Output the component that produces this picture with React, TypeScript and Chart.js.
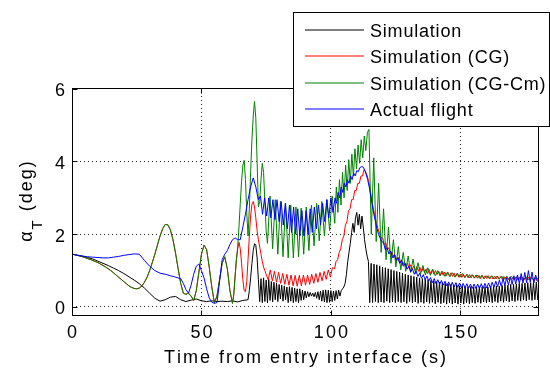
import { useEffect, useRef } from "react";
import { Chart, registerables } from "chart.js";

Chart.register(...registerables);

// Each block is a run of samples starting at t0 (s), spaced dt (s), with angle values (deg).
type Block = { t0: number; dt: number; y: number[] };

const seriesLabels = ["Simulation", "Simulation (CG)", "Simulation (CG-Cm)", "Actual flight"];
const seriesColors = ["#000000", "#ff0000", "#008000", "#0000ff"];
const xTitle = "Time from entry interface (s)";
const yTitleParts = ["\u03b1", "T", " (deg)"];
const xRange = [0, 180];
const yRange = [-0.22, 6.02];
const xStep = 50;
const yStep = 2;

const simulation: Block[] = [
  { t0: 0, dt: 2, y: [1.45, 1.43, 1.40, 1.36, 1.32, 1.26, 1.20, 1.14, 1.07, 1.00, 0.92, 0.83, 0.74, 0.64, 0.52, 0.38, 0.24, 0.16, 0.20, 0.27, 0.29, 0.20, 0.15, 0.19, 0.22, 0.17, 0.15, 0.17, 0.15, 0.16, 0.15, 0.17, 0.14, 0.18, 0.20] },
  { t0: 68.5, dt: 0.5, y: [0.45, 0.8, 1.2, 1.55, 1.74, 1.7, 1.35, 0.75, 0.15,
    0.78, 0.12, 0.8, 0.15, 0.74, 0.12, 0.76, 0.18, 0.7, 0.14, 0.68, 0.2, 0.66, 0.15, 0.62, 0.22, 0.6, 0.16, 0.58, 0.2, 0.55, 0.12, 0.56, 0.16, 0.54, 0.12, 0.52, 0.15, 0.5, 0.12, 0.5, 0.18, 0.46, 0.2, 0.44, 0.25, 0.42, 0.28, 0.4, 0.3, 0.38, 0.28, 0.4, 0.24, 0.42, 0.2, 0.44, 0.16, 0.46, 0.14, 0.47, 0.12, 0.46, 0.13, 0.45, 0.15, 0.44, 0.18, 0.45, 0.22, 0.46, 0.3,
    0.45, 0.5, 0.55, 0.65, 0.9, 1.25, 1.5, 1.75, 2.05, 2.3, 2.05, 2.45, 2.6, 2.25, 2.55, 2.15, 2.5, 2.2, 1.85, 1.6, 1.4, 1.25, 0.12] },
  { t0: 115.55, dt: 0.55, y: [
    1.2, 0.12, 1.18, 0.15, 1.16, 0.12, 1.13, 0.14, 1.1, 0.12, 1.08, 0.16, 1.05, 0.12, 1.03, 0.14, 1.0, 0.12, 0.98, 0.15,
    0.96, 0.12, 0.93, 0.14, 0.9, 0.1, 0.88, 0.15, 0.86, 0.11, 0.84, 0.14, 0.82, 0.1, 0.8, 0.13, 0.78, 0.1, 0.76, 0.14,
    0.75, 0.1, 0.73, 0.13, 0.71, 0.09, 0.7, 0.13, 0.68, 0.09, 0.67, 0.12, 0.65, 0.08, 0.64, 0.12, 0.62, 0.08, 0.61, 0.11,
    0.6, 0.08, 0.58, 0.11, 0.57, 0.08, 0.57, 0.12, 0.56, 0.09, 0.56, 0.12, 0.55, 0.1, 0.55, 0.13, 0.56, 0.1, 0.55, 0.14,
    0.56, 0.11, 0.55, 0.14, 0.57, 0.12, 0.56, 0.15, 0.58, 0.12, 0.57, 0.16, 0.59, 0.13, 0.6, 0.17, 0.6, 0.14, 0.62, 0.17,
    0.62, 0.15, 0.63, 0.18, 0.64, 0.16, 0.65, 0.19, 0.66, 0.17, 0.67, 0.2, 0.67, 0.18, 0.68, 0.2, 0.68, 0.19] },
];

const simulationCG: Block[] = [
  { t0: 0, dt: 1, y: [1.45, 1.44, 1.42, 1.40, 1.38, 1.36, 1.33, 1.31, 1.28, 1.25, 1.22, 1.18, 1.14, 1.10, 1.05, 1.00, 0.94, 0.88, 0.82, 0.76, 0.70, 0.64, 0.58, 0.54, 0.51, 0.50, 0.52, 0.58, 0.68, 0.82, 1.00, 1.22, 1.45, 1.70, 1.95, 2.15, 2.27, 2.26, 2.12, 1.85, 1.48, 1.05, 0.65, 0.38, 0.35, 0.38, 0.30, 0.18, 0.45, 0.95, 1.45, 1.70, 1.58, 1.10, 0.55, 0.12, 0.30, 0.75, 1.20, 1.38, 1.05, 0.45, 0.10] },
  { t0: 62.5, dt: 0.5, y: [0.35, 0.85, 1.3, 1.6, 1.78, 1.6, 1.2, 0.75, 0.45, 0.42, 0.7, 1.3, 1.95, 2.5, 2.82, 2.9, 2.75, 2.45, 2.1, 1.85, 1.65, 1.45, 1.25, 1.1, 1.0, 0.9] },
  { t0: 75.8, dt: 0.8, y: [0.75, 1.02, 0.72, 0.98, 0.68, 0.95, 0.65, 0.92, 0.62, 0.9, 0.6, 0.88, 0.58, 0.87, 0.57, 0.87, 0.58, 0.88, 0.6, 0.88, 0.62, 0.9, 0.65, 0.92, 0.68, 0.95, 0.72, 0.98, 0.76, 1.02, 0.82, 1.08] },
  { t0: 101.4, dt: 0.6, y: [1.05, 1.25, 1.3, 1.5, 1.6, 1.85, 1.95, 2.25, 2.35, 2.65, 2.7, 2.95, 2.95, 3.2, 3.2, 3.4, 3.4, 3.6, 3.6, 3.78, 3.72, 3.62, 3.45, 3.2, 2.95, 2.7, 2.5, 2.3, 2.15, 2.02, 1.9] },
  { t0: 120, dt: 0.6, y: [
    1.9, 1.72, 1.76, 1.57, 1.63, 1.45, 1.52, 1.35, 1.43, 1.27, 1.36, 1.21, 1.3, 1.15, 1.25, 1.1, 1.2, 1.06, 1.16, 1.02,
    1.13, 1.0, 1.11, 0.98, 1.09, 0.96, 1.07, 0.94, 1.05, 0.92, 1.03, 0.91, 1.02, 0.9, 1.0, 0.89, 0.99, 0.88, 0.98, 0.87,
    0.96, 0.86, 0.95, 0.85, 0.94, 0.84, 0.93, 0.83, 0.92, 0.82, 0.91, 0.81, 0.9, 0.81, 0.89, 0.8, 0.89, 0.8, 0.88, 0.79,
    0.88, 0.79, 0.87, 0.78, 0.87, 0.78, 0.86, 0.78, 0.86, 0.77, 0.85, 0.77, 0.85, 0.77, 0.85, 0.76, 0.84, 0.76, 0.84, 0.76,
    0.84, 0.75, 0.83, 0.75, 0.83, 0.75, 0.83, 0.75, 0.82, 0.74, 0.82, 0.74, 0.82, 0.74, 0.82, 0.74, 0.81, 0.74, 0.81, 0.73, 0.8] },
];

const simulationCGCm: Block[] = [
  { t0: 0, dt: 1, y: [1.45, 1.44, 1.42, 1.40, 1.38, 1.36, 1.33, 1.31, 1.28, 1.25, 1.22, 1.18, 1.14, 1.10, 1.05, 1.00, 0.94, 0.88, 0.82, 0.76, 0.70, 0.64, 0.58, 0.54, 0.51, 0.50, 0.52, 0.58, 0.68, 0.82, 1.00, 1.22, 1.45, 1.70, 1.95, 2.15, 2.27, 2.26, 2.12, 1.85, 1.48, 1.05, 0.65, 0.38, 0.35, 0.38, 0.30, 0.18, 0.45, 0.95, 1.45, 1.70, 1.58, 1.10, 0.55, 0.12, 0.30, 0.75, 1.20, 1.38, 1.05, 0.45, 0.10] },
  { t0: 62.5, dt: 0.5, y: [0.35, 0.85, 1.3, 1.65, 2.2, 2.85, 3.45, 3.9, 4.03, 3.5, 2.6, 1.95, 2.7, 3.7, 4.6, 5.25, 5.65, 5.2, 4.0, 2.75, 2.9, 3.5, 3.95, 3.7, 2.9, 2.1, 1.75] },
  { t0: 76.5, dt: 1, y: [3.05, 1.6, 2.95, 1.45, 2.9, 1.38, 2.85, 1.35, 2.8, 1.35, 2.75, 1.38, 2.72, 1.45, 2.75, 1.55, 2.8, 1.68, 2.85, 1.82, 2.9, 1.95, 2.95, 2.1, 3.05, 2.3] },
  { t0: 102.1, dt: 0.6, y: [3.3, 2.6, 3.5, 2.8, 3.7, 3.0, 3.9, 3.2, 4.05, 3.4, 4.2, 3.6, 4.35, 3.8, 4.45, 3.95, 4.6, 4.1, 4.7, 4.3, 4.8, 4.88] },
  { t0: 115.6, dt: 0.95, y: [
    2.0, 4.1, 1.8, 3.4, 1.5, 2.7, 1.3, 2.2, 1.2, 1.85, 1.1, 1.66, 1.02, 1.5, 0.98, 1.4, 0.95, 1.32, 0.92, 1.22,
    0.9, 1.14, 0.88, 1.08, 0.87, 1.04, 0.86, 1.0, 0.85, 0.98, 0.84, 0.96, 0.83, 0.94, 0.82, 0.93, 0.82, 0.92, 0.81, 0.9,
    0.8, 0.89, 0.8, 0.88, 0.79, 0.87, 0.78, 0.86, 0.78, 0.86, 0.77, 0.85, 0.77, 0.85, 0.76, 0.84, 0.76, 0.84, 0.76, 0.83,
    0.75, 0.83, 0.75, 0.83, 0.75, 0.82, 0.75, 0.82] },
];

const actualFlight: Block[] = [
  { t0: 0, dt: 2, y: [1.45, 1.42, 1.40, 1.38, 1.37, 1.36, 1.35, 1.35, 1.37, 1.39, 1.42, 1.44, 1.46, 1.45, 1.28, 1.12, 1.00, 0.93, 0.90, 0.86, 0.82, 0.78] },
  { t0: 43, dt: 1, y: [0.65, 0.48, 0.38, 0.6, 0.9, 1.12, 1.18, 1.0, 0.8, 0.5, 0.25, 0.13, 0.1, 0.12, 0.7, 1.3, 1.45, 1.55, 1.72, 1.85, 1.9, 1.85, 1.85, 2.2, 2.55, 2.95, 3.3, 3.55, 3.3, 2.95] },
  { t0: 72.8, dt: 0.8, y: [3.05, 2.55, 3.0, 2.5, 3.0, 2.45, 2.95, 2.4, 2.95, 2.35, 2.9, 2.25, 2.85, 2.15, 2.8, 2.05, 2.75, 2.0, 2.7, 1.95, 2.65, 1.95, 2.65, 2.0, 2.7, 2.05, 2.75, 2.15, 2.8, 2.25, 2.85, 2.35, 2.95, 2.45, 3.0, 2.6] },
  { t0: 101.6, dt: 0.6, y: [3.0, 2.85, 3.15, 3.0, 3.3, 3.15, 3.4, 3.3, 3.5, 3.4, 3.6, 3.5, 3.68, 3.6, 3.75, 3.72, 3.83, 3.86, 3.85, 3.78, 3.65, 3.5, 3.3, 3.05, 2.8, 2.55, 2.35, 2.15, 2.0, 1.9, 1.8] },
  { t0: 120.3, dt: 0.7, y: [
    1.77, 1.58, 1.63, 1.46, 1.53, 1.36, 1.44, 1.28, 1.36, 1.2, 1.28, 1.12, 1.2, 1.04, 1.12, 0.96, 1.05, 0.9, 0.99, 0.84,
    0.93, 0.79, 0.89, 0.75, 0.85, 0.71, 0.81, 0.67, 0.78, 0.64, 0.75, 0.62, 0.73, 0.6, 0.71, 0.58, 0.69, 0.56, 0.68, 0.55,
    0.67, 0.54, 0.66, 0.53, 0.65, 0.52, 0.64, 0.52, 0.63, 0.51, 0.63, 0.51, 0.63, 0.51, 0.64, 0.51, 0.65, 0.52, 0.66, 0.53,
    0.68, 0.54, 0.71, 0.56, 0.74, 0.57, 0.78, 0.59, 0.8, 0.6, 0.83, 0.62, 0.86, 0.63, 0.88, 0.64, 0.92, 0.66, 0.95, 0.67,
    1.0, 0.68, 0.96, 0.66, 0.88, 0.7] },
];

const seriesBlocks = [simulation, simulationCG, simulationCGCm, actualFlight];
// Actual flight on top, then CG-Cm, CG, and the baseline simulation underneath.
const drawOrder = [3, 2, 1, 0];

function toPoints(blocks: Block[]) {
  const pts: { x: number; y: number }[] = [];
  for (const b of blocks) {
    b.y.forEach((v, i) => pts.push({ x: Math.round((b.t0 + i * b.dt) * 100) / 100, y: v }));
  }
  return pts;
}

const AXIS_FONT = '18px "Liberation Sans", Arial, Helvetica, sans-serif';
const SUB_FONT = '15px "Liberation Sans", Arial, Helvetica, sans-serif';

function spacedWidth(ctx: CanvasRenderingContext2D, text: string, spacing: number) {
  let w = 0;
  for (const ch of text) w += ctx.measureText(ch).width;
  return w + spacing * Math.max(0, text.length - 1);
}

function drawSpaced(ctx: CanvasRenderingContext2D, text: string, x: number, y: number, spacing: number, align: "left" | "center" | "right") {
  const total = spacedWidth(ctx, text, spacing);
  let cx = align === "center" ? x - total / 2 : align === "right" ? x - total : x;
  ctx.textAlign = "left";
  for (const ch of text) {
    ctx.fillText(ch, cx, y);
    cx += ctx.measureText(ch).width + spacing;
  }
}

const framePlugin = {
  id: "frameAndLabels",
  afterDraw(chart: any) {
    const { ctx, chartArea: a, scales } = chart;
    const xs = scales.x;
    const ys = scales.y;
    ctx.save();
    ctx.setLineDash([]);
    ctx.strokeStyle = "#000";
    ctx.lineWidth = 1;
    ctx.strokeRect(a.left + 0.5, a.top + 0.5, a.right - a.left, a.bottom - a.top);

    // inward tick marks on all four sides
    const tl = 5;
    ctx.beginPath();
    for (const t of xs.ticks) {
      const px = Math.round(xs.getPixelForValue(t.value)) + 0.5;
      ctx.moveTo(px, a.bottom + 0.5);
      ctx.lineTo(px, a.bottom + 0.5 - tl);
      ctx.moveTo(px, a.top + 0.5);
      ctx.lineTo(px, a.top + 0.5 + tl);
    }
    for (const t of ys.ticks) {
      const py = Math.round(ys.getPixelForValue(t.value)) + 0.5;
      ctx.moveTo(a.left + 0.5, py);
      ctx.lineTo(a.left + 0.5 + tl, py);
      ctx.moveTo(a.right + 0.5, py);
      ctx.lineTo(a.right + 0.5 - tl, py);
    }
    ctx.stroke();

    ctx.fillStyle = "#000";
    ctx.font = AXIS_FONT;
    ctx.textBaseline = "alphabetic";
    for (const t of xs.ticks) {
      drawSpaced(ctx, String(t.value), xs.getPixelForValue(t.value), a.bottom + 23, 2, "center");
    }
    for (const t of ys.ticks) {
      drawSpaced(ctx, String(t.value), a.left - 7, ys.getPixelForValue(t.value) + 7.5, 2, "right");
    }
    drawSpaced(ctx, xTitle, (a.left + a.right) / 2, 363, 2, "center");

    // rotated y title with subscript
    ctx.save();
    ctx.translate(32, (a.top + a.bottom) / 2);
    ctx.rotate(-Math.PI / 2);
    ctx.font = AXIS_FONT;
    const wA = spacedWidth(ctx, yTitleParts[0], 2);
    const wRest = spacedWidth(ctx, yTitleParts[2], 2);
    ctx.font = SUB_FONT;
    const wT = spacedWidth(ctx, yTitleParts[1], 2);
    const total = wA + 2 + wT + 2 + wRest;
    let x0 = -total / 2;
    ctx.font = AXIS_FONT;
    drawSpaced(ctx, yTitleParts[0], x0, 0, 2, "left");
    x0 += wA + 2;
    ctx.font = SUB_FONT;
    drawSpaced(ctx, yTitleParts[1], x0, 10, 2, "left");
    x0 += wT + 2;
    ctx.font = AXIS_FONT;
    drawSpaced(ctx, yTitleParts[2], x0, 0, 2, "left");
    ctx.restore();

    // legend box
    const lx = 293, ly = 12, lw = 256, lh = 114;
    ctx.fillStyle = "#fff";
    ctx.fillRect(lx, ly, lw, lh);
    ctx.strokeStyle = "#000";
    ctx.strokeRect(lx + 0.5, ly + 0.5, lw, lh);
    seriesLabels.forEach((label, i) => {
      const rowY = Math.round(ly + 18 + i * 26.4);
      ctx.strokeStyle = seriesColors[i];
      ctx.lineWidth = 1.2;
      ctx.beginPath();
      ctx.moveTo(lx + 12, rowY);
      ctx.lineTo(lx + 71, rowY);
      ctx.stroke();
      ctx.fillStyle = "#000";
      ctx.font = AXIS_FONT;
      drawSpaced(ctx, label, lx + 77, rowY + 7, 0.8, "left");
    });
    ctx.restore();
  },
};

export default function App() {
  const ref = useRef<HTMLCanvasElement>(null);

  useEffect(() => {
    const canvas = ref.current;
    if (!canvas) return;
    const gridStyle = {
      color: "#222",
      lineWidth: 1,
      drawTicks: false,
    };
    const chart = new Chart(canvas, {
      type: "line",
      data: {
        datasets: seriesLabels.map((label, i) => ({
          label,
          data: toPoints(seriesBlocks[i]),
          borderColor: seriesColors[i],
          backgroundColor: seriesColors[i],
          borderWidth: 1,
          pointRadius: 0,
          tension: 0,
          fill: false,
          order: drawOrder[i],
        })),
      },
      options: {
        animation: false,
        responsive: false,
        events: [],
        parsing: false,
        layout: { padding: { left: 72, right: 12, top: 88, bottom: 55 } },
        plugins: { legend: { display: false }, tooltip: { enabled: false } },
        scales: {
          x: {
            type: "linear",
            min: xRange[0],
            max: xRange[1],
            ticks: { display: false, stepSize: xStep, includeBounds: false },
            grid: { ...gridStyle },
            border: { display: false, dash: [1, 3] },
            afterFit: (s: any) => { s.height = 0; },
          },
          y: {
            type: "linear",
            min: yRange[0],
            max: yRange[1],
            ticks: { display: false, stepSize: yStep, includeBounds: false },
            grid: { ...gridStyle },
            border: { display: false, dash: [1, 3] },
            afterFit: (s: any) => { s.width = 0; },
          },
        },
      },
      plugins: [framePlugin],
    } as any);
    return () => chart.destroy();
  }, []);

  return (
    <canvas
      ref={ref}
      width={550}
      height={370}
      style={{ position: "absolute", left: 0, top: 0, display: "block" }}
    />
  );
}
